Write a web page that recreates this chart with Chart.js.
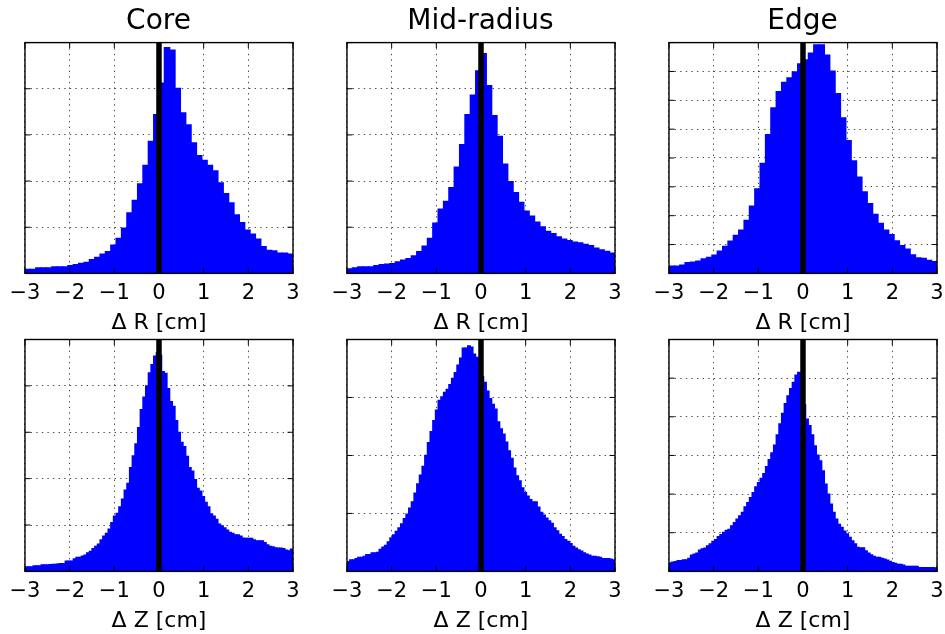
<!DOCTYPE html>
<html>
<head>
<meta charset="utf-8">
<script src="https://cdn.jsdelivr.net/npm/chart.js@4.4.0/dist/chart.umd.min.js"></script>
<style>
  html, body { margin: 0; padding: 0; background: #fff; }
  body { width: 945px; height: 634px; position: relative; overflow: hidden; }
  canvas { position: absolute; }
</style>
</head>
<body>
<script>
// histogram heights, in y-grid steps
const coreR = [0.09, 0.09, 0.12, 0.12, 0.12, 0.14, 0.14, 0.14, 0.17, 0.19,
               0.22, 0.24, 0.30, 0.35, 0.42, 0.47, 0.61, 0.76, 0.98, 1.31,
               1.58, 1.94, 2.34, 2.86, 3.44, 4.12, 4.89, 4.84, 4.01, 3.48,
               3.22, 2.83, 2.55, 2.45, 2.34, 2.22, 1.96, 1.73, 1.53, 1.27,
               1.10, 0.94, 0.85, 0.74, 0.58, 0.50, 0.49, 0.44, 0.44, 0.42];
const midR = [0.10, 0.12, 0.14, 0.14, 0.14, 0.17, 0.19, 0.20, 0.21, 0.25,
              0.29, 0.32, 0.38, 0.47, 0.59, 0.76, 1.09, 1.39, 1.56, 1.86,
              2.30, 2.79, 3.44, 3.86, 4.39, 4.76, 4.07, 3.42, 2.97, 2.37,
              1.99, 1.75, 1.54, 1.35, 1.24, 1.11, 1.01, 0.91, 0.86, 0.79,
              0.74, 0.71, 0.68, 0.66, 0.63, 0.60, 0.55, 0.51, 0.48, 0.44];
const edgeR = [0.25, 0.25, 0.29, 0.37, 0.39, 0.43, 0.50, 0.56, 0.63, 0.77,
               0.94, 1.12, 1.32, 1.50, 1.84, 2.33, 2.93, 3.81, 4.81, 5.74,
               6.30, 6.62, 6.78, 6.99, 7.26, 7.40, 7.64, 7.92, 7.92, 7.57,
               7.01, 6.23, 5.39, 4.60, 3.90, 3.34, 2.83, 2.42, 2.05, 1.73,
               1.50, 1.34, 1.13, 0.96, 0.84, 0.64, 0.54, 0.52, 0.45, 0.41];
const coreZ = [0.10, 0.10, 0.10, 0.12, 0.12, 0.12, 0.14, 0.14, 0.14, 0.145,
               0.15, 0.15, 0.16, 0.17, 0.17, 0.22, 0.22, 0.22, 0.27, 0.30,
               0.30, 0.33, 0.35, 0.40, 0.43, 0.49, 0.54, 0.59, 0.68, 0.76,
               0.82, 0.91, 1.05, 1.19, 1.25, 1.39, 1.56, 1.75, 1.90, 2.24,
               2.49, 2.75, 3.10, 3.49, 3.76, 4.00, 4.28, 4.46, 4.64, 4.72,
               4.66, 4.31, 4.27, 3.94, 3.66, 3.56, 3.25, 3.00, 2.78, 2.69,
               2.48, 2.24, 2.16, 1.98, 1.79, 1.73, 1.61, 1.49, 1.39, 1.24,
               1.19, 1.12, 1.02, 0.98, 0.94, 0.89, 0.84, 0.82, 0.79, 0.79,
               0.76, 0.72, 0.71, 0.71, 0.71, 0.68, 0.66, 0.66, 0.66, 0.62,
               0.57, 0.54, 0.53, 0.51, 0.50, 0.50, 0.49, 0.46, 0.44, 0.48];
const midZ = [0.17, 0.20, 0.20, 0.22, 0.24, 0.24, 0.26, 0.29, 0.29, 0.32,
              0.32, 0.33, 0.38, 0.42, 0.45, 0.51, 0.58, 0.63, 0.69, 0.75,
              0.82, 0.91, 0.99, 1.09, 1.20, 1.35, 1.51, 1.66, 1.81, 2.00,
              2.22, 2.41, 2.60, 2.78, 2.95, 3.01, 3.09, 3.14, 3.22, 3.33,
              3.43, 3.56, 3.68, 3.85, 3.85, 3.89, 3.87, 3.75, 3.69, 3.50,
              3.36, 3.26, 3.11, 2.98, 2.88, 2.80, 2.58, 2.46, 2.37, 2.23,
              2.08, 1.95, 1.78, 1.65, 1.56, 1.44, 1.36, 1.30, 1.24, 1.20,
              1.20, 1.11, 1.02, 0.97, 0.92, 0.87, 0.83, 0.75, 0.70, 0.64,
              0.60, 0.55, 0.52, 0.48, 0.43, 0.40, 0.37, 0.35, 0.32, 0.30,
              0.28, 0.26, 0.26, 0.25, 0.24, 0.22, 0.22, 0.22, 0.21, 0.20];
const edgeZ = [0.22, 0.24, 0.25, 0.28, 0.28, 0.30, 0.30, 0.34, 0.42, 0.45,
               0.47, 0.55, 0.58, 0.60, 0.66, 0.71, 0.78, 0.82, 0.90, 0.95,
               1.01, 1.06, 1.09, 1.18, 1.26, 1.35, 1.44, 1.53, 1.67, 1.78,
               1.91, 2.04, 2.19, 2.30, 2.41, 2.53, 2.71, 2.89, 3.07, 3.27,
               3.53, 3.82, 4.09, 4.34, 4.54, 4.73, 4.89, 5.08, 5.15, 5.10,
               4.31, 3.94, 3.77, 3.53, 3.25, 3.01, 2.86, 2.60, 2.26, 2.00,
               1.74, 1.53, 1.35, 1.22, 1.14, 1.04, 0.97, 0.88, 0.79, 0.71,
               0.62, 0.61, 0.61, 0.53, 0.47, 0.43, 0.39, 0.36, 0.36, 0.34,
               0.32, 0.29, 0.26, 0.23, 0.21, 0.18, 0.18, 0.16, 0.13, 0.13,
               0.13, 0.13, 0.13, 0.10, 0.10, 0.10, 0.10, 0.10, 0.10, 0.09];

const xTicks = [-3, -2, -1, 0, 1, 2, 3];
const xTickLabels = ['\u22123', '\u22122', '\u22121', '0', '1', '2', '3'];
const titles = ['Core', 'Mid-radius', 'Edge'];
const xLabels = ['\u0394 R [cm]', '\u0394 Z [cm]'];
const yMaxes = [[5, 5, 8], [5, 4, 6]];
const series = [[coreR, midR, edgeR], [coreZ, midZ, edgeZ]];

Chart.defaults.font.family = "'DejaVu Sans', sans-serif";
Chart.defaults.color = '#000';

const TICK = 5.5;

// axes box plus inward ticks on all four sides, matplotlib style
const framePlugin = {
    id: 'frame',
    afterDatasetsDraw(chart) {
        const { ctx, chartArea: a, scales: { x, y } } = chart;
        ctx.save();
        ctx.strokeStyle = '#000';
        ctx.lineWidth = 1;
        ctx.beginPath();
        x.ticks.forEach(t => {
            const px = x.getPixelForValue(t.value);
            ctx.moveTo(px, a.bottom); ctx.lineTo(px, a.bottom - TICK);
            ctx.moveTo(px, a.top); ctx.lineTo(px, a.top + TICK);
        });
        y.ticks.forEach(t => {
            const py = y.getPixelForValue(t.value);
            ctx.moveTo(a.left, py); ctx.lineTo(a.left + TICK, py);
            ctx.moveTo(a.right, py); ctx.lineTo(a.right - TICK, py);
        });
        ctx.stroke();
        ctx.lineWidth = 1.4;
        ctx.strokeRect(a.left, a.top, a.right - a.left, a.bottom - a.top);
        ctx.restore();
    }
};

function binCenters(n) {
    const w = 6 / n;
    return Array.from({ length: n }, (_, i) => -3 + w * (i + 0.5));
}

const colLefts = [0, 322, 644];
const rowTops = [0, 331];
const rowHeights = [337, 303];
const rowPads = [{ top: 0, bottom: 4.7 }, { top: 8.5, bottom: 3.7 }];

function makePanel(row, col) {
    const values = series[row][col];
    const centers = binCenters(values.length);
    const yMax = yMaxes[row][col];

    const canvas = document.createElement('canvas');
    canvas.width = 317;
    canvas.height = rowHeights[row];
    canvas.style.left = colLefts[col] + 'px';
    canvas.style.top = rowTops[row] + 'px';
    document.body.appendChild(canvas);

    return new Chart(canvas.getContext('2d'), {
        type: 'bar',
        data: {
            datasets: [
                {
                    type: 'line',
                    data: [{ x: 0, y: 0 }, { x: 0, y: yMax }],
                    borderColor: '#000',
                    borderWidth: 5.5,
                    pointRadius: 0,
                    order: 0,
                },
                {
                    data: centers.map((c, i) => ({ x: c, y: values[i] })),
                    backgroundColor: '#0000ff',
                    borderWidth: 0,
                    inflateAmount: 0.6,
                    barPercentage: 1,
                    categoryPercentage: 1,
                    order: 1,
                },
            ]
        },
        options: {
            responsive: false,
            animation: false,
            layout: { padding: { left: 24, right: 24, top: rowPads[row].top, bottom: rowPads[row].bottom } },
            plugins: {
                legend: { display: false },
                tooltip: { enabled: false },
                title: {
                    display: row === 0,
                    text: titles[col],
                    font: { size: 28, weight: 'normal' },
                    padding: { top: 5, bottom: 4 },
                },
            },
            scales: {
                x: {
                    type: 'linear',
                    min: -3,
                    max: 3,
                    offset: false,
                    afterBuildTicks: s => { s.ticks = xTicks.map(v => ({ value: v })); },
                    ticks: { font: { size: 21, lineHeight: 1.0 }, padding: 9.5, maxRotation: 0, callback: (v, i) => xTickLabels[i] },
                    grid: { offset: false, drawTicks: false, color: '#000', lineWidth: 0.7 },
                    border: { display: false, dash: [1.4, 4.2] },
                    title: { display: true, text: xLabels[row], font: { size: 22, lineHeight: 0.86 }, padding: { top: 0, bottom: 0 } },
                },
                y: {
                    min: 0,
                    max: yMax,
                    ticks: { stepSize: 1, display: false },
                    grid: { drawTicks: false, color: '#000', lineWidth: 0.7 },
                    border: { display: false, dash: [1.4, 4.2] },
                },
            },
        },
        plugins: [framePlugin],
    });
}

for (let r = 0; r < 2; r++) {
    for (let c = 0; c < 3; c++) makePanel(r, c);
}
</script>
</body>
</html>
